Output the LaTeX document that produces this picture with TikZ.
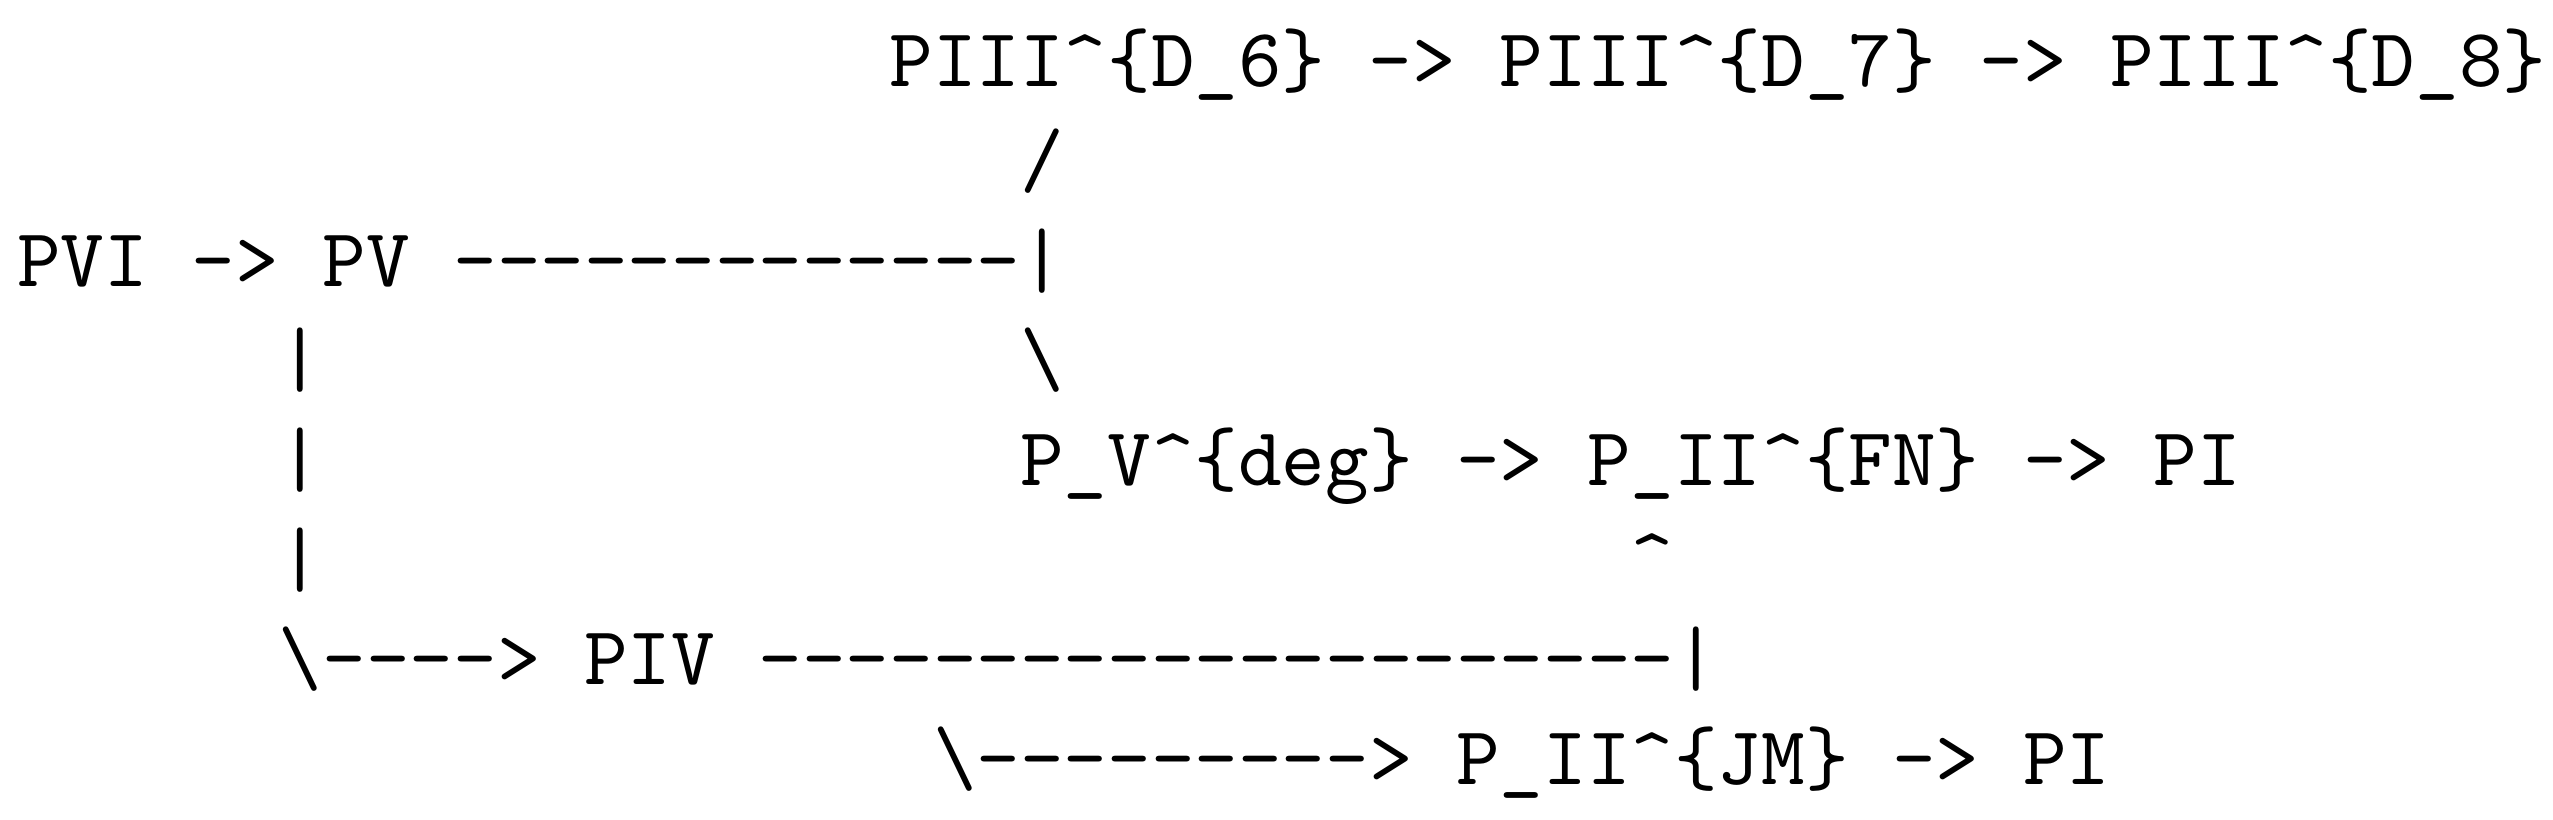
\documentclass[tikz,border=0pt]{standalone}

\tikzset{ascii/.style={anchor=base west, inner sep=0pt, font=\ttfamily}}

\begin{document}
\begin{tikzpicture}[x=5.25pt,y=-12pt]

            \useasboundingbox (-0.36,-0.87) rectangle (58.19,7.35);

            % top chain:
            \node[ascii] (piii) at (20,0) {PIII\textasciicircum\{D\_6\} -> PIII\textasciicircum\{D\_7\} -> PIII\textasciicircum\{D\_8\}};
            \node[ascii] (up) at (23,1) {/};

            % PVI and PV
            \node[ascii] (pvi) at (0,2) {PVI -> PV};
            \node[ascii] (pvline) at (10,2) {-------------|};
            \node[ascii] (down) at (23,3) {\textbackslash};

            % middle chain
            \node[ascii] (pdeg) at (23,4) {P\_V\textasciicircum\{deg\} -> P\_II\textasciicircum\{FN\} -> PI};
            \node[ascii] (hat) at (37,5) {\textasciicircum};

            %left bar
            \node[ascii] (bara) at (6,3) {|};
            \node[ascii] (barb) at (6,4) {|};
            \node[ascii] (barc) at (6,5) {|};

            % PIV
            \node[ascii] (piv) at (6,6) {\textbackslash----> PIV};
            \node[ascii] (pivline) at (17,6) {---------------------|};

            % bottom chain
            \node[ascii] (pjm) at (21,7) {\textbackslash---------> P\_II\textasciicircum\{JM\} -> PI};
        \end{tikzpicture}
\end{document}
